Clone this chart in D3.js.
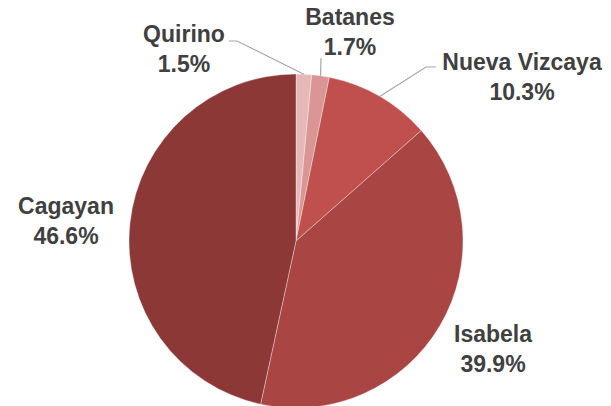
<!DOCTYPE html>
<html lang="en">
<head>
<meta charset="UTF-8">
<title>Provinces share</title>
<script src="https://d3js.org/d3.v7.min.js"></script>
<style>
  body, html { margin: 0; padding: 0; overflow: hidden; background: #fff; }
  .lbl { font-family: "Liberation Sans", Arial, sans-serif; font-weight: bold; font-size: 23px; fill: #404040; text-anchor: middle; }
  .leader { fill: none; stroke: #a6a6a6; stroke-width: 1.2px; }
</style>
</head>
<body>
<svg id="chart" width="611" height="406"></svg>
<script>
// data, clockwise from 12 o'clock
const provinces = ["Quirino", "Batanes", "Nueva Vizcaya", "Isabela", "Cagayan"];
const shares = [1.5, 1.7, 10.3, 39.9, 46.6];
const colors = ["#e6b9b8", "#d99694", "#c0504d", "#a94543", "#8c3836"];

// label placement (relative to pie centre), and leader elbows
const labelPos = [
  { x: -112, y: -199, elbow: [[-67, -200], [-59, -200]] },
  { x: 54, y: -216, elbow: [[25, -183]] },
  { x: 226, y: -171, elbow: [[140, -174], [130, -174]] },
  { x: 197, y: 101, elbow: null },
  { x: -230, y: -27, elbow: null }
];

const cx = 296, cy = 241, r = 167;
const svg = d3.select("#chart");
const g = svg.append("g").attr("transform", `translate(${cx},${cy})`);

const pie = d3.pie().sort(null).value(d => d.v);
const arcs = pie(provinces.map((p, i) => ({ name: p, v: shares[i], i: i })));
const arc = d3.arc().innerRadius(0).outerRadius(r);

g.selectAll("path.slice")
  .data(arcs)
  .enter()
  .append("path")
  .attr("class", "slice")
  .attr("d", arc)
  .attr("fill", d => colors[d.data.i])
  .attr("stroke", "#fff")
  .attr("stroke-width", 0.35);

// leaders
arcs.forEach((d, i) => {
  const lp = labelPos[i];
  if (!lp.elbow) return;
  const mid = (d.startAngle + d.endAngle) / 2;
  const pts = lp.elbow.concat([[r * Math.sin(mid), -r * Math.cos(mid)]]);
  g.append("path")
    .attr("class", "leader")
    .attr("d", d3.line()(pts));
});

// labels
arcs.forEach((d, i) => {
  const lp = labelPos[i];
  const t = g.append("text").attr("class", "lbl")
    .attr("x", lp.x).attr("y", lp.y);
  t.append("tspan").attr("x", lp.x).text(d.data.name);
  t.append("tspan").attr("x", lp.x).attr("dy", 30).text(d3.format(".1f")(d.data.v) + "%");
});
</script>
</body>
</html>
